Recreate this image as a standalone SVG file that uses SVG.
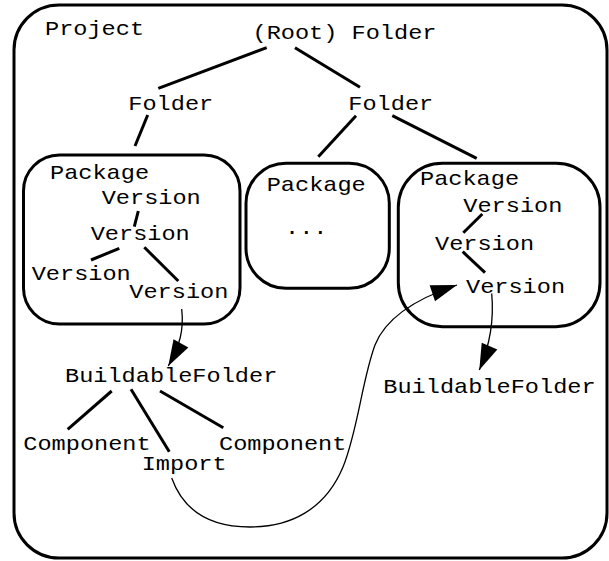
<svg xmlns="http://www.w3.org/2000/svg" width="609" height="561" viewBox="0 0 609 561">
  <defs>
    <style>
      .frame { fill: none; stroke: #000; stroke-width: 3; }
      .edge { fill: none; stroke: #000; stroke-width: 3; stroke-linecap: butt; }
      .flow { fill: none; stroke: #000; stroke-width: 1.3; }
      .lbl { font-family: "Liberation Mono", "Courier New", monospace; font-size: 20px; fill: #000; }
    </style>
    <marker id="head" markerUnits="userSpaceOnUse" markerWidth="30" markerHeight="24" viewBox="-27 -12 30 24" refX="0" refY="0" orient="auto">
      <path d="M0,0 L-26,-8.5 L-26,8.5 Z" fill="#000"/>
    </marker>
  </defs>

  <rect width="609" height="561" fill="#fff"/>

  <!-- project frame -->
  <g id="project">
    <rect class="frame" x="14" y="5" width="593" height="553" rx="45" ry="45"/>
    <text class="lbl" transform="translate(45 35) scale(1.18 1)">Project</text>
  </g>

  <g id="root-folder">
    <text class="lbl" transform="translate(252.5 39) scale(1.18 1)">(Root) Folder</text>
  </g>
  <g id="folder-left">
    <text class="lbl" transform="translate(128.3 110) scale(1.18 1)">Folder</text>
  </g>
  <g id="folder-right">
    <text class="lbl" transform="translate(348.3 110) scale(1.18 1)">Folder</text>
  </g>

  <!-- package with four versions -->
  <g id="package-left">
    <rect class="frame" x="23.5" y="155" width="216.5" height="169" rx="36" ry="36"/>
    <text class="lbl" transform="translate(50 179.3) scale(1.18 1)">Package</text>
    <g id="pl-v1"><text class="lbl" transform="translate(101.7 204) scale(1.18 1)">Version</text></g>
    <g id="pl-v2"><text class="lbl" transform="translate(90.7 240) scale(1.18 1)">Version</text></g>
    <g id="pl-v3"><text class="lbl" transform="translate(31.7 280) scale(1.18 1)">Version</text></g>
    <g id="pl-v4"><text class="lbl" transform="translate(129.3 298.3) scale(1.18 1)">Version</text></g>
  </g>

  <g id="package-middle">
    <rect class="frame" x="246" y="163.3" width="143.3" height="125" rx="40" ry="40"/>
    <text class="lbl" transform="translate(266.7 190.7) scale(1.18 1)">Package</text>
    <text class="lbl" transform="translate(285 234) scale(1.18 1)">...</text>
  </g>

  <!-- package with three versions -->
  <g id="package-right">
    <rect class="frame" x="398.3" y="163.3" width="201.7" height="163.4" rx="44" ry="44"/>
    <text class="lbl" transform="translate(420 185) scale(1.18 1)">Package</text>
    <g id="pr-v1"><text class="lbl" transform="translate(463.3 211.7) scale(1.18 1)">Version</text></g>
    <g id="pr-v2"><text class="lbl" transform="translate(435 250) scale(1.18 1)">Version</text></g>
    <g id="pr-v3"><text class="lbl" transform="translate(466 292.7) scale(1.18 1)">Version</text></g>
  </g>

  <g id="buildable-left">
    <text class="lbl" transform="translate(65 381.7) scale(1.18 1)">BuildableFolder</text>
  </g>
  <g id="component-left">
    <text class="lbl" transform="translate(23.3 450) scale(1.18 1)">Component</text>
  </g>
  <g id="import">
    <text class="lbl" transform="translate(141.7 470) scale(1.18 1)">Import</text>
  </g>
  <g id="component-right">
    <text class="lbl" transform="translate(219 450) scale(1.18 1)">Component</text>
  </g>
  <g id="buildable-right">
    <text class="lbl" transform="translate(383.3 393.3) scale(1.18 1)">BuildableFolder</text>
  </g>

  <!-- connectors -->
  <g id="connectors">
    <!-- containment tree -->
    <line class="edge" x1="266.7" y1="47.7" x2="158.3" y2="88.3"/>
    <line class="edge" x1="295" y1="47.7" x2="360" y2="87.3"/>
    <line class="edge" x1="147.7" y1="115" x2="135" y2="146"/>
    <line class="edge" x1="356" y1="115.7" x2="318.3" y2="156.7"/>
    <line class="edge" x1="392.3" y1="115.7" x2="476.7" y2="158.3"/>
    <!-- version history, left package -->
    <line class="edge" x1="138.3" y1="211" x2="134.3" y2="226.7"/>
    <line class="edge" x1="119.3" y1="248.3" x2="91" y2="260"/>
    <line class="edge" x1="144.3" y1="247.3" x2="178.3" y2="281"/>
    <!-- version history, right package -->
    <line class="edge" x1="482.3" y1="214" x2="463.3" y2="232.7"/>
    <line class="edge" x1="462.7" y1="251.7" x2="485" y2="272.7"/>
    <!-- buildable folder contents -->
    <line class="edge" x1="111.7" y1="391" x2="67.7" y2="429.3"/>
    <line class="edge" x1="131" y1="389.3" x2="169.3" y2="451.7"/>
    <line class="edge" x1="160" y1="391" x2="223.3" y2="427.7"/>
    <!-- version to buildable folder -->
    <path class="flow" d="M181.7,309 C184,330 180,345 168.3,366" marker-end="url(#head)"/>
    <path class="flow" d="M491.7,293.5 C494,318 490,345 479.3,370" marker-end="url(#head)"/>
    <!-- import reference -->
    <path class="flow" d="M171.7,478 C185,515 215,527 250,527 C290,527 325,510 343,467 C358,430 362,380 375,345 C388,312 430,294 457,285" marker-end="url(#head)"/>
  </g>
</svg>
